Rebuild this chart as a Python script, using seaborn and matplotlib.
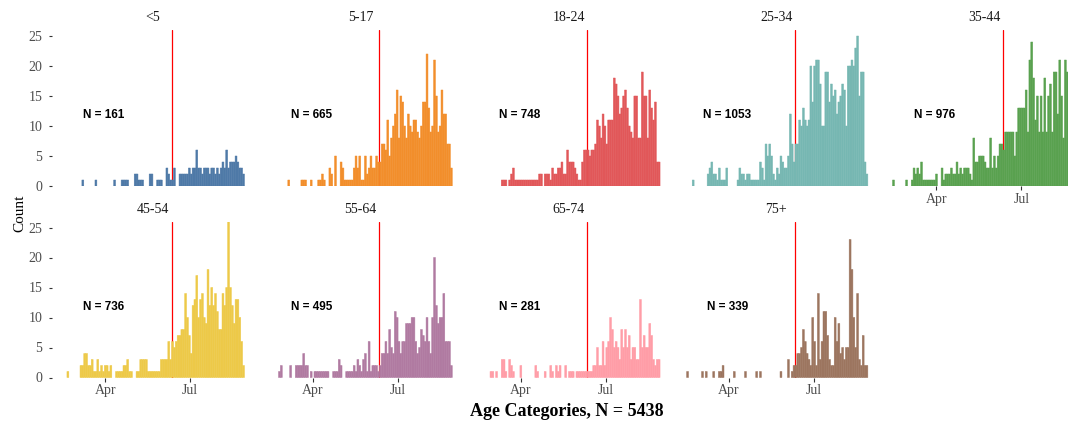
import matplotlib

matplotlib.use("Agg")

import matplotlib.pyplot as plt
import numpy as np
import pandas as pd
import seaborn as sns

# --- data -------------------------------------------------------------------
AGE_GROUPS = ["<5", "5-17", "18-24", "25-34", "35-44", "45-54", "55-64", "65-74", "75+"]
GROUP_N = [161, 665, 748, 1053, 976, 736, 495, 281, 339]
TOTAL_N = 5438
COLORS = ["#4E79A7", "#F28E2B", "#E15759", "#76B7B2", "#59A14F",
          "#EDC948", "#B07AA1", "#FF9DA7", "#9C755F"]

FIRST_BIN = "2020-02-14"   # left edge of first 2-day bin
BIN_DAYS = 2
CUTOFF_DATE = "2020-06-11"  # red reference line
TICK_DATES = ["2020-04-01", "2020-07-01"]
TICK_LABELS = ["Apr", "Jul"]

# counts per 2-day bin (98 bins)
counts_lt5 = [0, 0, 0, 0, 0, 0, 0, 0, 0, 0,
              0, 1, 0, 0, 0, 0, 0, 0, 1, 0,
              0, 0, 0, 0, 0, 0, 0, 0, 1, 0,
              0, 0, 1, 1, 1, 1, 0, 0, 0, 2,
              2, 1, 1, 1, 0, 0, 0, 2, 2, 0,
              0, 1, 1, 1, 0, 0, 3, 2, 1, 1,
              3, 0, 0, 2, 2, 2, 2, 2, 3, 2,
              3, 3, 6, 3, 3, 2, 3, 3, 3, 2,
              3, 3, 2, 3, 2, 3, 4, 3, 6, 3,
              4, 4, 4, 5, 4, 3, 3, 2]
counts_5_17 = [0, 0, 0, 0, 0, 0, 0, 0, 0, 0,
               1, 0, 0, 0, 0, 0, 0, 1, 1, 1,
               0, 0, 1, 0, 0, 0, 1, 1, 2, 1,
               0, 0, 3, 2, 0, 5, 0, 0, 4, 3,
               1, 1, 1, 1, 1, 3, 5, 3, 5, 1,
               1, 5, 2, 3, 5, 3, 3, 5, 4, 4,
               7, 7, 6, 11, 5, 8, 10, 12, 16, 8,
               15, 14, 10, 8, 12, 10, 9, 11, 11, 9,
               8, 10, 14, 14, 22, 13, 9, 10, 21, 15,
               9, 10, 16, 12, 12, 7, 7, 3]
counts_18_24 = [0, 0, 0, 0, 0, 0, 0, 0, 0, 0,
                0, 0, 0, 1, 1, 1, 0, 1, 2, 3,
                1, 1, 1, 1, 1, 1, 1, 1, 1, 1,
                1, 1, 1, 2, 2, 0, 2, 2, 2, 1,
                3, 2, 2, 3, 3, 4, 2, 2, 6, 4,
                4, 4, 3, 2, 1, 1, 4, 6, 6, 6,
                5, 6, 6, 7, 11, 10, 8, 12, 10, 7,
                11, 11, 11, 18, 17, 15, 12, 13, 15, 16,
                13, 10, 9, 8, 15, 15, 8, 8, 19, 15,
                15, 8, 16, 13, 11, 14, 4, 4]
counts_25_34 = [0, 0, 0, 0, 1, 0, 0, 0, 0, 0,
                0, 0, 2, 3, 4, 2, 2, 1, 3, 1,
                1, 1, 3, 0, 0, 0, 0, 0, 1, 3,
                2, 2, 1, 2, 2, 1, 1, 1, 1, 1,
                4, 3, 1, 7, 5, 7, 5, 2, 1, 3,
                2, 5, 4, 3, 3, 5, 12, 7, 4, 7,
                7, 11, 10, 13, 11, 10, 11, 20, 14, 20,
                21, 21, 17, 10, 10, 19, 19, 14, 17, 15,
                16, 12, 14, 15, 17, 16, 10, 20, 20, 21,
                20, 23, 25, 15, 19, 19, 4, 2]
counts_35_44 = [1, 0, 0, 0, 0, 0, 0, 1, 0, 0,
                1, 3, 2, 3, 2, 4, 1, 1, 1, 1,
                1, 1, 1, 2, 0, 0, 3, 1, 2, 2,
                2, 3, 2, 2, 4, 2, 3, 2, 3, 3,
                3, 2, 1, 8, 4, 4, 5, 5, 5, 4,
                3, 3, 8, 3, 5, 3, 5, 7, 7, 6,
                9, 9, 9, 9, 9, 5, 9, 13, 13, 13,
                13, 16, 9, 21, 24, 18, 11, 15, 9, 15,
                9, 18, 9, 15, 17, 9, 19, 19, 12, 21,
                15, 8, 21, 19, 18, 15, 12, 8]
counts_45_54 = [0, 0, 0, 1, 0, 0, 0, 0, 0, 0,
                2, 2, 4, 4, 2, 2, 3, 1, 1, 3,
                1, 2, 1, 2, 2, 1, 2, 0, 0, 1,
                1, 1, 1, 2, 2, 3, 1, 1, 0, 0,
                1, 1, 3, 3, 3, 3, 1, 1, 1, 1,
                1, 1, 1, 3, 3, 3, 3, 6, 3, 6,
                5, 6, 7, 7, 8, 8, 14, 10, 7, 4,
                12, 13, 17, 10, 13, 14, 10, 9, 18, 12,
                15, 12, 14, 11, 8, 8, 14, 12, 15, 26,
                15, 12, 9, 13, 13, 10, 6, 2]
counts_55_64 = [0, 0, 0, 0, 0, 1, 2, 0, 0, 0,
                0, 2, 0, 0, 2, 2, 2, 2, 4, 2,
                2, 0, 1, 0, 1, 1, 1, 1, 1, 1,
                1, 1, 0, 0, 1, 1, 1, 3, 2, 0,
                0, 1, 1, 1, 1, 2, 1, 3, 2, 1,
                3, 4, 1, 6, 1, 2, 2, 2, 1, 2,
                4, 4, 6, 4, 8, 5, 4, 11, 10, 6,
                4, 6, 6, 9, 9, 9, 10, 10, 6, 4,
                5, 8, 7, 6, 10, 6, 4, 10, 20, 12,
                9, 10, 10, 14, 6, 6, 6, 2]
counts_65_74 = [0, 0, 0, 0, 0, 0, 0, 1, 1, 0,
                1, 0, 0, 3, 3, 1, 0, 3, 2, 1,
                0, 0, 0, 2, 0, 0, 0, 0, 0, 0,
                0, 2, 1, 0, 0, 0, 1, 0, 0, 2,
                1, 0, 2, 1, 2, 0, 0, 2, 0, 1,
                1, 1, 0, 1, 1, 1, 1, 1, 1, 1,
                1, 1, 2, 2, 5, 2, 2, 6, 2, 5,
                6, 10, 8, 5, 6, 5, 3, 8, 5, 8,
                5, 7, 3, 5, 5, 3, 3, 13, 5, 7,
                5, 5, 9, 7, 3, 2, 3, 3]
counts_75p = [0, 1, 0, 0, 0, 0, 0, 0, 0, 1,
              0, 1, 0, 0, 0, 1, 0, 0, 1, 1,
              2, 0, 0, 0, 0, 0, 1, 0, 0, 0,
              0, 0, 1, 0, 0, 0, 0, 0, 1, 0,
              1, 0, 0, 0, 0, 0, 0, 0, 0, 0,
              0, 1, 0, 0, 0, 3, 0, 1, 2, 2,
              4, 4, 5, 8, 6, 4, 3, 2, 10, 6,
              2, 14, 3, 6, 11, 11, 7, 3, 2, 2,
              10, 6, 9, 4, 5, 3, 5, 5, 23, 18,
              10, 5, 14, 3, 2, 7, 2, 2]

ALL_COUNTS = [counts_lt5, counts_5_17, counts_18_24, counts_25_34, counts_35_44,
              counts_45_54, counts_55_64, counts_65_74, counts_75p]

# --- layout (pixels of a 1068x424 canvas, last column runs off the edge) -----
FIG_W, FIG_H = 1068, 424
PANEL_LEFT, PANEL_STEP, PANEL_W = 52.2, 207.8, 201.4
ROW_TOP = [30.0, 221.5]
PANEL_H = 156.0
NCOL = 5

sns.set_style("white")
plt.rcParams["font.family"] = ["Liberation Serif", "DejaVu Serif"]


def build_frame():
    """Long table: one row per (group, bin)."""
    ref = pd.Timestamp(TICK_DATES[0])
    rows = []
    for group, counts in zip(AGE_GROUPS, ALL_COUNTS):
        starts = pd.date_range(FIRST_BIN, periods=len(counts), freq=f"{BIN_DAYS}D")
        days = (starts - ref).days + BIN_DAYS / 2
        rows.append(pd.DataFrame({"group": group, "day": days, "count": counts}))
    return pd.concat(rows, ignore_index=True)


def main():
    df = build_frame()
    ref = pd.Timestamp(TICK_DATES[0])
    n_bins = len(counts_lt5)
    start = (pd.Timestamp(FIRST_BIN) - ref).days
    stop = start + BIN_DAYS * n_bins
    span = stop - start
    xlim = (start - 0.05 * span, stop + 0.05 * span)
    cutoff = (pd.Timestamp(CUTOFF_DATE) - ref).days
    ticks = [(pd.Timestamp(d) - ref).days for d in TICK_DATES]

    fig = plt.figure(figsize=(FIG_W / 100, FIG_H / 100), dpi=100)

    for k, group in enumerate(AGE_GROUPS):
        row, col = divmod(k, NCOL)
        left = PANEL_LEFT + PANEL_STEP * col
        top = ROW_TOP[row]
        ax = fig.add_axes([left / FIG_W, 1 - (top + PANEL_H) / FIG_H,
                           PANEL_W / FIG_W, PANEL_H / FIG_H])

        # red line first so the bars cover it
        ax.axvline(cutoff, color="#FF0000", lw=0.9, zorder=0)
        sub = df[df["group"] == group]
        # thin same-colour edge closes most of the antialias seams
        sns.histplot(data=sub, x="day", weights="count", binwidth=BIN_DAYS,
                     binrange=(start, stop), color=COLORS[k], alpha=1,
                     edgecolor=COLORS[k], linewidth=0.35, snap=False, ax=ax, zorder=1)
        # empty bins would otherwise leave their edge as a baseline
        for p in ax.patches:
            if p.get_height() == 0:
                p.set_visible(False)

        ax.set_xlim(*xlim)
        ax.set_ylim(0, 26)
        ax.set_xlabel("")
        ax.set_ylabel("")
        for s in ax.spines.values():
            s.set_visible(False)

        ax.text(0.5, 1.08, group, transform=ax.transAxes, ha="center", va="center",
                fontsize=10, color="#1A1A1A")
        ax.text(-1.5, 11.8, f"N = {GROUP_N[k]}", ha="center", va="center",
                fontsize=8.5, fontweight="bold", family="Liberation Sans", color="black")

        # y axis only on first column
        if col == 0:
            ax.set_yticks([0, 5, 10, 15, 20, 25])
            ax.tick_params(axis="y", left=True, length=2.5, width=0.8, color="#333333",
                           pad=4.5, labelsize=10, labelcolor="#4D4D4D")
        else:
            ax.set_yticks([])

        # x axis only where no panel sits below
        bottom_of_column = (row == 1) or (k + NCOL >= len(AGE_GROUPS))
        if bottom_of_column:
            ax.set_xticks(ticks)
            ax.set_xticklabels(TICK_LABELS)
            ax.tick_params(axis="x", bottom=True, length=2.8, width=0.8, color="#333333",
                           pad=2.0, labelsize=10, labelcolor="#4D4D4D")
        else:
            ax.set_xticks([])

    fig.text(20 / FIG_W, 1 - 213 / FIG_H, "Count", rotation=90, ha="center",
             va="center", fontsize=11, color="black")
    fig.text(566.7 / FIG_W, 1 - 411 / FIG_H, f"Age Categories, N = {TOTAL_N}",
             ha="center", va="center", fontsize=13, fontweight="bold", color="black")

    fig.savefig("out.png", dpi=100)
    plt.close(fig)


if __name__ == "__main__":
    main()
